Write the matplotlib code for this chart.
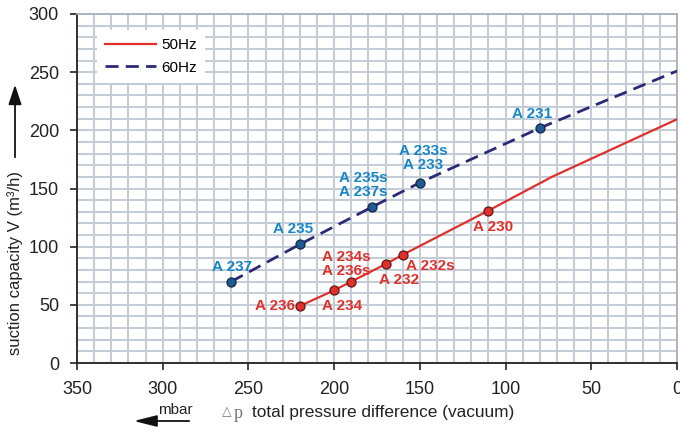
import matplotlib
matplotlib.use("Agg")
import matplotlib.pyplot as plt
from matplotlib.ticker import MultipleLocator

plt.rcParams['font.family'] = ['Liberation Sans', 'DejaVu Sans']

# ---- data ----
dp_60 = [260, 220, 178, 150, 80, 0]
q_60 = [70, 102, 134, 155, 202, 251]
labels_60 = ["A 237", "A 235", "A 235s\nA 237s", "A 233s\nA 233", "A 231"]

dp_50 = [220, 200, 190, 170, 160, 110, 73, 0]
q_50 = [49, 62.5, 70, 85, 93, 131, 160, 209.5]
labels_50 = ["A 236", "A 234", "A 234s\nA 236s", "A 232", "A 232s", "A 230"]

x_ticks = [350, 300, 250, 200, 150, 100, 50, 0]
y_ticks = [0, 50, 100, 150, 200, 250, 300]

red = '#e0302c'
navy = '#2b2a78'
blue_lbl = '#1786c8'
blue_pt = '#1f5a92'

fig = plt.figure(figsize=(6.8, 4.32), dpi=100)
ax = fig.add_axes([77/680, 1-363/432, 600/680, 349/432])

ax.set_xlim(350, 0)
ax.set_ylim(0, 300)
ax.xaxis.set_minor_locator(MultipleLocator(10))
ax.yaxis.set_minor_locator(MultipleLocator(10))
ax.set_xticks(x_ticks)
ax.set_yticks(y_ticks)
ax.grid(which='both', color='#c3ccd6', lw=1.4, zorder=0)
ax.set_axisbelow(True)
ax.tick_params(which='minor', length=0)
ax.tick_params(which='major', direction='out', length=5, width=1.2,
               labelsize=13, color='#222222', labelcolor='#222222', pad=8)
for s in ['top', 'right']:
    ax.spines[s].set_color('#a8b2bc')
    ax.spines[s].set_linewidth(1.3)
for s in ['left', 'bottom']:
    ax.spines[s].set_color('#222222')
    ax.spines[s].set_linewidth(1.3)

# lines
l50, = ax.plot(dp_50, q_50, color=red, lw=1.6, zorder=3, label='50Hz')
l60, = ax.plot(dp_60, q_60, color=navy, lw=2.0, dashes=(4.7, 2.6), zorder=3, label='60Hz')
ax.plot(dp_50[:len(labels_50)], q_50[:len(labels_50)], 'o', ms=6.5,
        mfc=red, mec='#5a1a1a', mew=0.9, zorder=4)
ax.plot(dp_60[:len(labels_60)], q_60[:len(labels_60)], 'o', ms=6.5,
        mfc=blue_pt, mec='#10284a', mew=0.9, zorder=4)

# label offsets (pixels) relative to each point
off_60 = [(1, 15, 'center'), (-7, 15, 'center'), (-9, 22, 'center'),
          (3, 25, 'center'), (-8, 14, 'center')]
off_50 = [(-5, 0, 'right'), (8, -16, 'center'), (-5, 18, 'center'),
          (13, -16, 'center'), (28, -11, 'center'), (5, -16, 'center')]

for i, lab in enumerate(labels_60):
    dx, dy, ha = off_60[i]
    ax.annotate(lab, (dp_60[i], q_60[i]), xytext=(dx, dy),
                textcoords='offset pixels', ha=ha, va='center',
                color=blue_lbl, fontsize=11, fontweight='bold',
                linespacing=1.0, zorder=5)
for i, lab in enumerate(labels_50):
    dx, dy, ha = off_50[i]
    ax.annotate(lab, (dp_50[i], q_50[i]), xytext=(dx, dy),
                textcoords='offset pixels', ha=ha, va='center',
                color=red, fontsize=11, fontweight='bold',
                linespacing=1.0, zorder=5)

leg = ax.legend(handles=[l50, l60], loc='upper left',
                bbox_to_anchor=(20/600, 1-16/349), borderaxespad=0,
                fontsize=11, frameon=True, framealpha=1, edgecolor='white',
                fancybox=False, handlelength=3.3, borderpad=0.55,
                labelspacing=0.55, handletextpad=0.35)
leg.get_frame().set_linewidth(0)

# y label with arrow
fig.text(15/680, 1-355/432, 'suction capacity V (m³/h)', rotation=90,
         ha='center', va='bottom', fontsize=12, color='#222222')
fig.patches.append(matplotlib.patches.FancyArrowPatch(
    (15/680, 1-160/432), (15/680, 1-82/432), transform=fig.transFigure,
    arrowstyle='-|>,head_length=12,head_width=4', color='#111111', lw=1.3))

# x label
fig.text(222/680, 1-412/432, '△', ha='left', va='center', fontsize=9,
         color='#777777', family=['DejaVu Sans'])
fig.text(234/680, 1-413/432, 'p', ha='left', va='center', fontsize=13,
         color='#777777', family=['Liberation Serif', 'DejaVu Serif'])
fig.text(252/680, 1-412/432, 'total pressure difference (vacuum)',
         ha='left', va='center', fontsize=12.4, color='#222222')
fig.text(175/680, 1-410/432, 'mbar', ha='center', va='center',
         fontsize=11, color='#222222')
fig.patches.append(matplotlib.patches.FancyArrowPatch(
    (192/680, 1-421/432), (131/680, 1-421/432), transform=fig.transFigure,
    arrowstyle='-|>,head_length=14,head_width=3.5', color='#111111', lw=1.3))

fig.savefig('out.png', dpi=100)
